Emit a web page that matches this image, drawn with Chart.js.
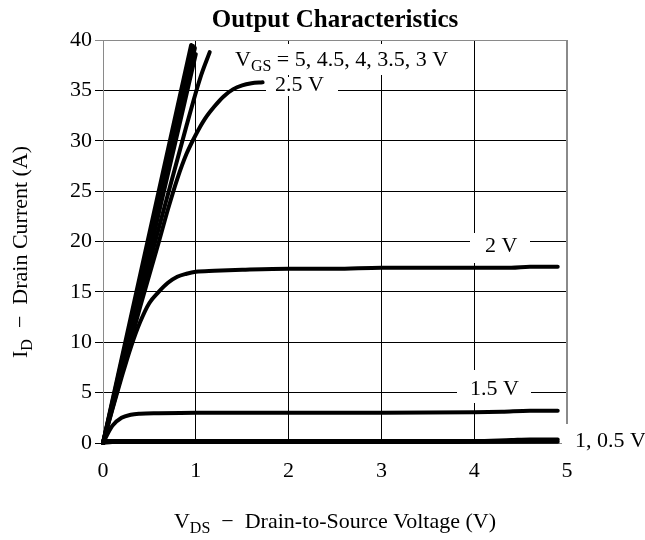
<!DOCTYPE html>
<html>
<head>
<meta charset="utf-8">
<script src="https://cdn.jsdelivr.net/npm/chart.js@4.4.1/dist/chart.umd.min.js"></script>
<style>
  html, body { margin: 0; padding: 0; background: #fff; }
  #wrap { width: 645px; height: 540px; position: relative; }
</style>
</head>
<body>
<div id="wrap"><canvas id="c" width="645" height="540"></canvas></div>
<script>
// ---- data ----
const xTicks = [0, 1, 2, 3, 4, 5];
const yTicks = [0, 5, 10, 15, 20, 25, 30, 35, 40];

const vds5  = [0, 0.48, 0.95];
const id5   = [0, 20.0, 39.5];
const vds45 = [0, 0.49, 0.97];
const id45  = [0, 19.8, 39.4];
const vds4  = [0, 0.50, 0.99];
const id4   = [0, 19.5, 39.2];
const vds35 = [0, 0.51, 1.00];
const id35  = [0, 19.2, 38.6];
const vds3  = [0, 0.30, 0.60, 0.90, 1.05, 1.15];
const id3   = [0, 10.8, 21.3, 31.5, 36.3, 38.8];
const vds25 = [0, 0.2, 0.4, 0.5, 0.6, 0.7, 0.8, 0.9, 1.0, 1.1, 1.2, 1.3, 1.4, 1.5, 1.6, 1.72];
const id25  = [0, 6.8, 13.5, 16.7, 19.9, 23.2, 26.2, 28.7, 30.6, 32.2, 33.4, 34.4, 35.1, 35.5, 35.7, 35.8];
const vds2  = [0, 0.1, 0.2, 0.3, 0.4, 0.5, 0.6, 0.7, 0.8, 0.9, 1.0, 1.2, 1.5, 2.0, 2.5, 3.0, 3.5, 4.0, 4.4, 4.6, 4.9];
const id2   = [0, 3.3, 6.5, 9.5, 12.0, 13.9, 15.0, 15.9, 16.5, 16.8, 17.0, 17.1, 17.2, 17.3, 17.3, 17.4, 17.4, 17.4, 17.4, 17.5, 17.5];
const vds15 = [0, 0.1, 0.2, 0.3, 0.4, 0.6, 1.0, 2.0, 3.0, 4.0, 4.3, 4.6, 4.9];
const id15  = [0, 1.7, 2.5, 2.8, 2.9, 2.95, 3.0, 3.0, 3.0, 3.05, 3.1, 3.2, 3.2];
const vds1  = [0, 0.05, 0.5, 2.0, 4.0, 4.4, 4.6, 4.9];
const id1   = [0, 0.2, 0.2, 0.2, 0.2, 0.3, 0.35, 0.35];
const vds05 = [0, 0.1, 2.0, 4.9];
const id05  = [0, 0.1, 0.1, 0.12];

const series = [
  ['5 V', vds5, id5], ['4.5 V', vds45, id45], ['4 V', vds4, id4], ['3.5 V', vds35, id35],
  ['3 V', vds3, id3], ['2.5 V', vds25, id25], ['2 V', vds2, id2], ['1.5 V', vds15, id15],
  ['1 V', vds1, id1], ['0.5 V', vds05, id05]
];

const FONT = '"Liberation Serif", "Times New Roman", Times, serif';
const GRAY = '#8a8a8a';

// labels drawn on white boxes: [parts, x, baseline, box]
const annotations = [
  { parts: [['V', 0], ['GS', 1], [' = 5, 4.5, 4, 3.5, 3 V', 0]], x: 235, y: 66, box: [229, 44, 233, 31] },
  { parts: [['2.5 V', 0]], x: 275, y: 91, box: [266, 77, 72, 19] },
  { parts: [['2 V', 0]], x: 485, y: 252, box: [470, 233, 60, 30] },
  { parts: [['1.5 V', 0]], x: 470, y: 395, box: [457, 370, 74, 33] },
  { parts: [['1, 0.5 V', 0]], x: 575, y: 447, box: [562, 424, 83, 34] }
];

function drawParts(ctx, parts, x, y, size, subSize, subDy) {
  let cx = x;
  for (const [t, sub] of parts) {
    ctx.font = (sub ? subSize : size) + 'px ' + FONT;
    ctx.fillText(t, cx, sub ? y + subDy : y);
    cx += ctx.measureText(t).width;
  }
  return cx - x;
}
function partsWidth(ctx, parts, size, subSize) {
  let w = 0;
  for (const [t, sub] of parts) {
    ctx.font = (sub ? subSize : size) + 'px ' + FONT;
    w += ctx.measureText(t).width;
  }
  return w;
}

const textPlugin = {
  id: 'texts',
  beforeDatasetsDraw(chart) {
    const ctx = chart.ctx;
    const a = chart.chartArea;
    ctx.save();
    // top and right frame lines
    ctx.strokeStyle = GRAY;
    ctx.lineWidth = 1;
    ctx.beginPath();
    ctx.moveTo(a.left, a.top + 0.5); ctx.lineTo(a.right, a.top + 0.5);
    ctx.moveTo(a.right - 0.5, a.top); ctx.lineTo(a.right - 0.5, a.bottom);
    ctx.stroke();
    // label boxes + texts
    ctx.textBaseline = 'alphabetic';
    ctx.textAlign = 'left';
    for (const an of annotations) {
      ctx.fillStyle = '#fff';
      ctx.fillRect(an.box[0], an.box[1], an.box[2], an.box[3]);
      ctx.fillStyle = '#000';
      drawParts(ctx, an.parts, an.x, an.y, 22, 16, 5);
    }
    ctx.restore();
  },
  afterDraw(chart) {
    const ctx = chart.ctx;
    const a = chart.chartArea;
    ctx.save();
    ctx.fillStyle = '#000';
    ctx.textBaseline = 'alphabetic';
    ctx.textAlign = 'left';
    // title
    ctx.font = 'bold 25px ' + FONT;
    const title = 'Output Characteristics';
    const tw = ctx.measureText(title).width;
    ctx.fillText(title, (a.left + a.right) / 2 - tw / 2, 27);
    // x axis title
    const xParts = [['V', 0], ['DS', 1], ['  \u2212  Drain-to-Source Voltage (V)', 0]];
    const xw = partsWidth(ctx, xParts, 22, 16);
    drawParts(ctx, xParts, (a.left + a.right) / 2 - xw / 2, 528, 22, 16, 5);
    // y axis title
    const yParts = [['I', 0], ['D', 1], ['  \u2212  Drain Current (A)', 0]];
    ctx.translate(27, 358);
    ctx.rotate(-Math.PI / 2);
    drawParts(ctx, yParts, 0, 0, 22, 16, 5);
    ctx.restore();
  }
};

const datasets = series.map(([name, xs, ys]) => ({
  label: name,
  data: xs.map((v, i) => ({ x: v, y: ys[i] })),
  borderColor: '#000',
  backgroundColor: '#000',
  borderWidth: 4,
  pointRadius: 0,
  borderCapStyle: 'round',
  borderJoinStyle: 'round',
  cubicInterpolationMode: 'monotone',
  fill: false,
  clip: false
}));

new Chart(document.getElementById('c'), {
  type: 'line',
  data: { datasets },
  plugins: [textPlugin],
  options: {
    responsive: false,
    animation: false,
    devicePixelRatio: 1,
    layout: { padding: { top: 40, right: 78, left: 0, bottom: 0 } },
    plugins: { legend: { display: false }, tooltip: { enabled: false }, title: { display: false } },
    scales: {
      x: {
        type: 'linear', min: 0, max: 5,
        afterFit(s) { s.height = 97; },
        afterBuildTicks(s) { s.ticks = xTicks.map(v => ({ value: v })); },
        ticks: { color: '#000', font: { family: FONT, size: 22 }, padding: 15, maxRotation: 0 },
        grid: {
          color: c => (c.tick && (c.tick.value === 5 || c.tick.value === 0)) ? GRAY : '#000',
          lineWidth: 1, drawTicks: false
        },
        border: { color: GRAY, width: 1 }
      },
      y: {
        type: 'linear', min: 0, max: 40,
        afterFit(s) { s.width = 103; },
        afterBuildTicks(s) { s.ticks = yTicks.map(v => ({ value: v })); },
        ticks: { color: '#000', font: { family: FONT, size: 22 }, padding: 3 },
        grid: {
          color: c => (c.tick && c.tick.value === 40) ? GRAY : '#000',
          lineWidth: 1, tickLength: 8
        },
        border: { color: GRAY, width: 1 }
      }
    }
  }
});
</script>
</body>
</html>
